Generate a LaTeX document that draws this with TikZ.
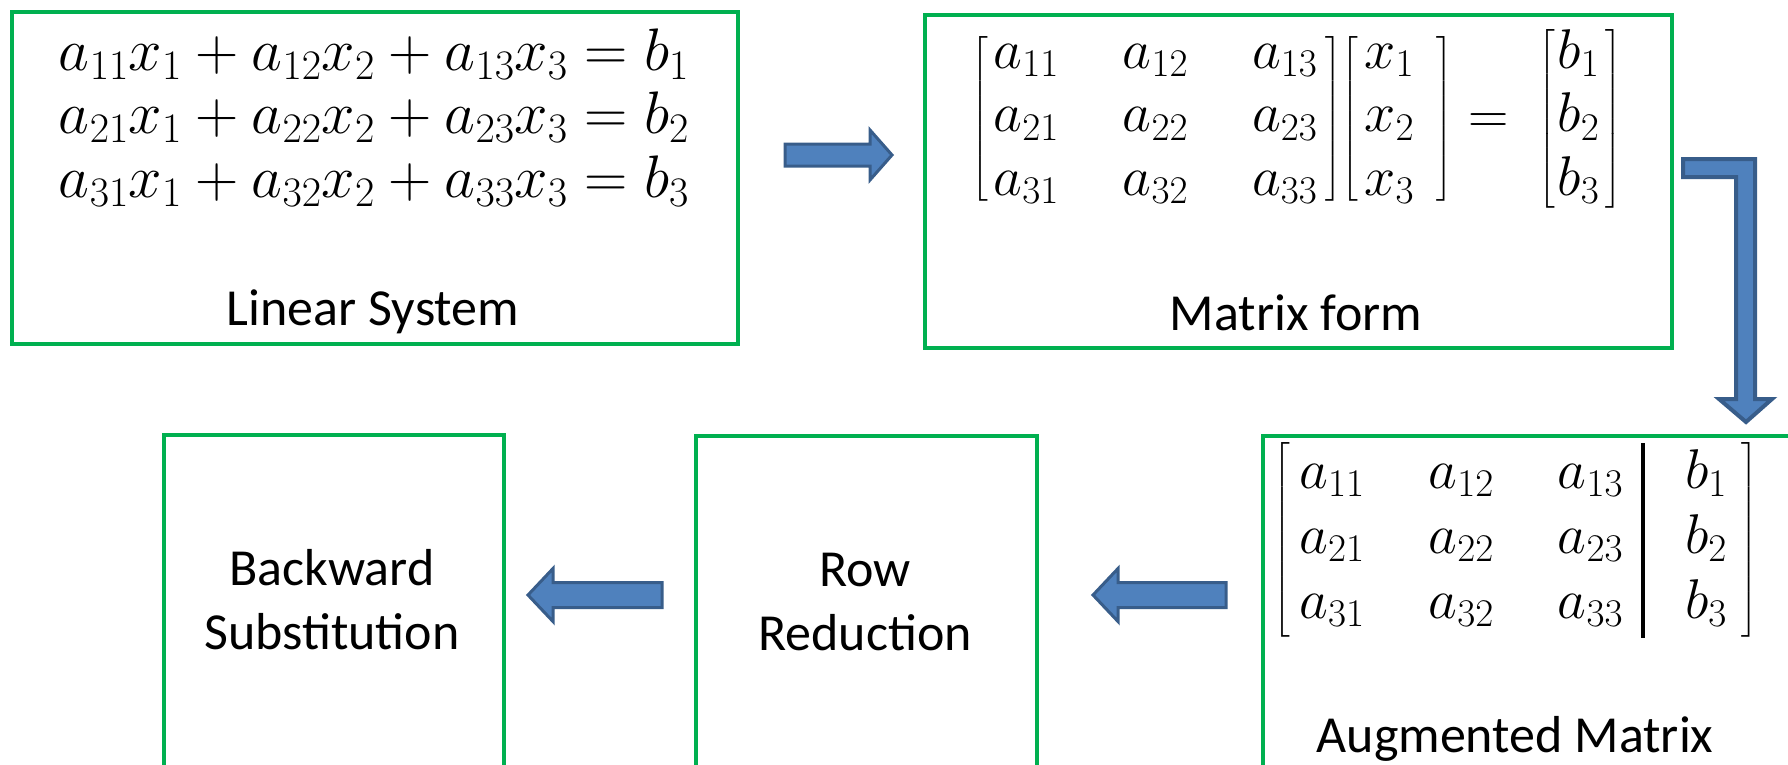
\RequirePackage{fix-cm}
\documentclass[tikz,border=0pt]{standalone}
\usepackage{amsmath}
\usepackage[no-math]{fontspec}
\setmainfont{Carlito}
\definecolor{boxgreen}{HTML}{00B050}
\definecolor{arrowfill}{HTML}{4F81BD}
\definecolor{arrowline}{HTML}{385D8A}
\begin{document}
\begin{tikzpicture}[x=1pt,y=-1pt,
 box/.style={draw=boxgreen,line width=4pt,inner sep=0pt,anchor=north west},
 lbl/.style={font=\fontsize{52}{64}\selectfont,inner sep=0pt,anchor=base,align=center},
 eqn/.style={font=\fontsize{56}{63.5}\selectfont,inner sep=0pt},
 barrow/.style={fill=arrowfill,draw=arrowline,line width=3pt,line join=miter}]
\useasboundingbox (0,0) rectangle (1788,764);
\clip (0,0) rectangle (1788,764);
% boxes
\node[box,minimum width=726pt,minimum height=332pt] (ls) at (10,10) {};
\node[box,minimum width=747pt,minimum height=333pt] (mf) at (923,13) {};
\node[box,minimum width=600pt,minimum height=400pt] (am) at (1261,434) {};
\node[box,minimum width=341pt,minimum height=400pt] (rr) at (694,434) {};
\node[box,minimum width=340pt,minimum height=400pt] (bs) at (162,433) {};
% labels
\node[lbl] (lsT) at (373,325) {Linear System};
\node[lbl] (mfT) at (1296,330) {Matrix form};
\node[lbl] (amT) at (1515,752) {Augmented Matrix};
\node[lbl] (rrT) at (865,650) {Row\\Reduction};
\node[lbl] (bsT) at (332,649) {Backward\\Substitution};
% equations
\node[eqn,font=\fontsize{60}{63.5}\selectfont,anchor=base] (eq1) at (374,70) {$a_{11}x_1 + a_{12}x_2 + a_{13}x_3 = b_1$};
\node[eqn,font=\fontsize{60}{63.5}\selectfont,anchor=base] (eq2) at (374,133) {$a_{21}x_1 + a_{22}x_2 + a_{23}x_3 = b_2$};
\node[eqn,font=\fontsize{60}{63.5}\selectfont,anchor=base] (eq3) at (374,197) {$a_{31}x_1 + a_{32}x_2 + a_{33}x_3 = b_3$};
% matrix form
\node[eqn,anchor=base] (mfM) at (1297,133) {\delimiterfactor=800 \delimitershortfall=35pt $\left[\hspace{5pt}\begin{array}{@{}c@{\hspace{64pt}}c@{\hspace{64pt}}c@{}} a_{11} & a_{12} & a_{13}\\ a_{21} & a_{22} & a_{23}\\ a_{31} & a_{32} & a_{33}\end{array}\hspace{8pt}\right]\mskip-3mu\left[\hspace{6pt}\begin{array}{@{}l@{}} x_1\\ x_2\\ x_3\end{array}\hspace{22pt}\right] = \hspace{14pt}{\delimiterfactor=901 \delimitershortfall=5pt \left[\hspace{3pt}\begin{array}{@{}c@{}} b_1\\ b_2\\ b_3\end{array}\rule[-90pt]{0pt}{208pt}\hspace{6pt}\right]}$};
% augmented matrix
\node[eqn,font=\fontsize{56}{65}\selectfont] (amM) at (1516,540) {\setlength\arrayrulewidth{4pt}$\left[\,\begin{array}{@{}c@{\hspace{64pt}}c@{\hspace{64pt}}c@{\hspace{20pt}}|@{\hspace{40pt}}c@{}} a_{11} & a_{12} & a_{13} & b_1\\ a_{21} & a_{22} & a_{23} & b_2\\ a_{31} & a_{32} & a_{33} & b_3\end{array}\hspace{15pt}\right]$};
% arrows
\draw[barrow] (785,144) -- (870,144) -- (870,130) -- (892,155) -- (870,180) -- (870,166) -- (785,166) -- cycle;
\draw[barrow,line width=4pt] (1683,159) -- (1755,159) -- (1755,399) -- (1772,399) -- (1746,422) -- (1719,399) -- (1736,399) -- (1736,177) -- (1683,177) -- cycle;
\draw[barrow] (1226,582.5) -- (1118,582.5) -- (1118,568.5) -- (1093,595) -- (1118,621.5) -- (1118,607.5) -- (1226,607.5) -- cycle;
\draw[barrow] (662,582.5) -- (553,582.5) -- (553,568.5) -- (528,595) -- (553,621.5) -- (553,607.5) -- (662,607.5) -- cycle;
\end{tikzpicture}
\end{document}
